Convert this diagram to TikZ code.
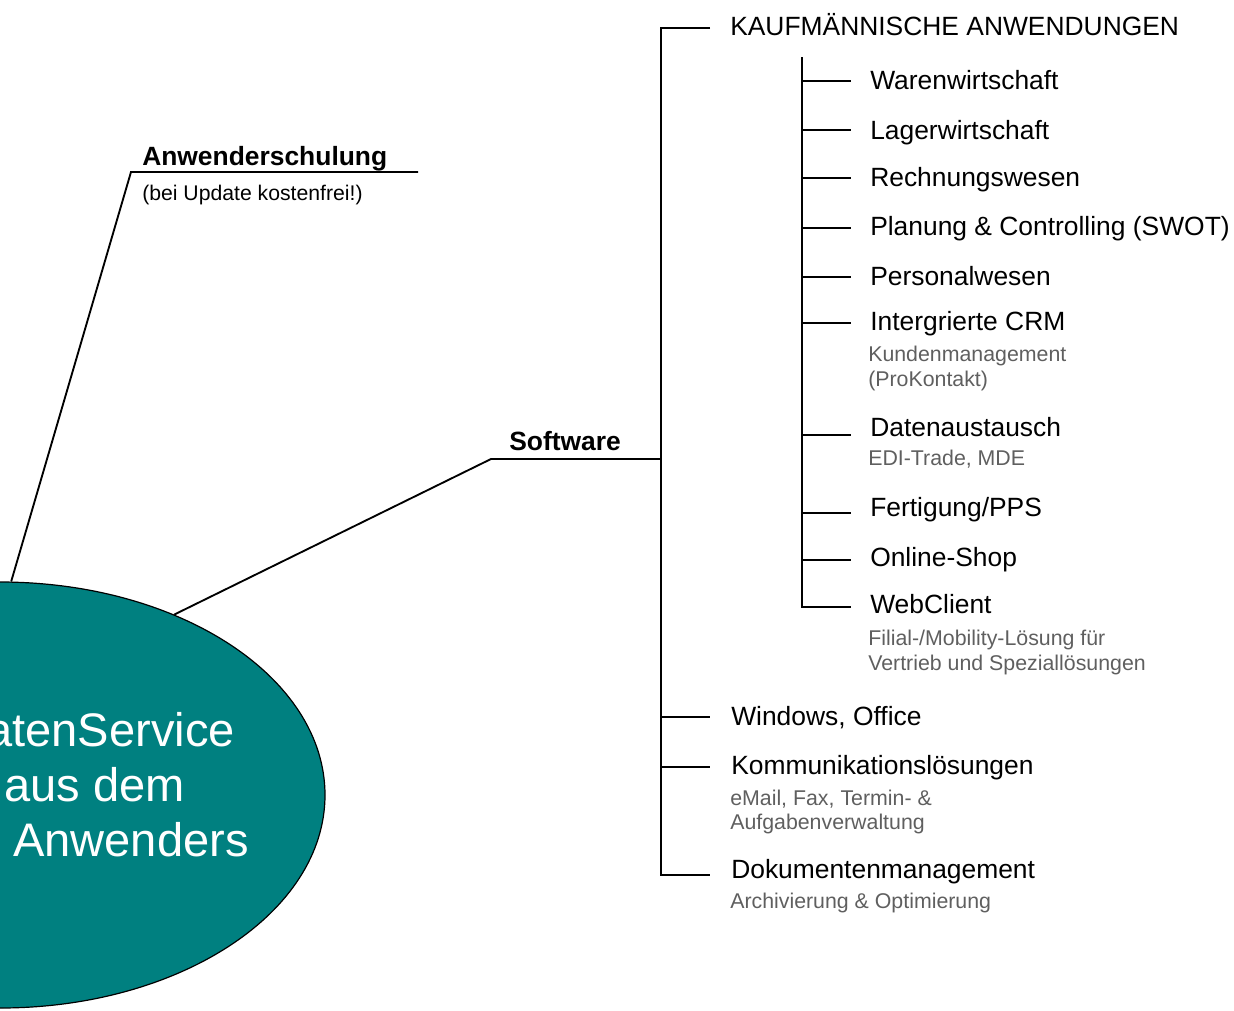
\documentclass[tikz,border=0pt]{standalone}
\usepackage{fontspec}
\setmainfont{Liberation Sans}
\usetikzlibrary{shapes.geometric}
\definecolor{coreteal}{RGB}{0,128,128}
\definecolor{subgray}{RGB}{95,95,95}
\tikzset{
  lbl/.style={anchor=base west, inner sep=0pt, text=black, font=\fontsize{19.8pt}{24pt}\selectfont},
  lblb/.style={anchor=base west, inner sep=0pt, text=black, font=\fontsize{19.8pt}{24pt}\selectfont\bfseries},
  sublbl/.style={anchor=base west, inner sep=0pt, text=subgray, font=\fontsize{16pt}{19pt}\selectfont},
  corelbl/.style={anchor=base west, inner sep=0pt, text=white, font=\fontsize{35.3pt}{42pt}\selectfont},
  conn/.style={draw=black, line width=1.4pt, line join=miter},
}
\begin{document}
\begin{tikzpicture}[x=0.75pt, y=-0.75pt]
\useasboundingbox (0,0) rectangle (1234,1010);
\clip (0,0) rectangle (1234,1010);

% central ellipse
\node[ellipse, draw=black, line width=0.9pt, fill=coreteal, minimum width=487.5pt, minimum height=319.5pt, inner sep=0pt] (core) at (0,795) {};
\node[corelbl] (core1) at (-14,746.7) {atenService};
\node[corelbl] (core2) at (4,801.7) {aus dem};
\node[corelbl] (core3) at (13,856.7) {Anwenders};

% Anwenderschulung branch
\coordinate (aknee) at (131,172);
\coordinate (aend) at (418,172);
\draw[conn] (core.87.6) -- (aknee) -- (aend);
\node[lblb] (anw) at (142,165) {Anwenderschulung};
\node[anchor=base west, inner sep=0pt, font=\fontsize{15.9pt}{19pt}\selectfont] (anwsub) at (142,200.5) {(bei Update kostenfrei!)};

% Software branch
\coordinate (sknee) at (491,459);
\coordinate (sp) at (661,459);
\draw[conn] (core.46.7) -- (sknee) -- (sp);
\node[lblb] (soft) at (509,450) {Software};

% main spine
\coordinate (ktop) at (661,28);
\coordinate (kend) at (710,28);
\coordinate (dbot) at (661,875);
\coordinate (dend) at (710,875);
\draw[conn] (kend) -- (ktop) -- (dbot) -- (dend);
\coordinate (wsp) at (661,717);
\coordinate (wend) at (710,717);
\coordinate (ksp) at (661,767);
\coordinate (kkend) at (710,767);
\draw[conn] (wsp) -- (wend);
\draw[conn] (ksp) -- (kkend);

\node[lbl] (kauf) at (730,35) {KAUFMÄNNISCHE ANWENDUNGEN};
\node[lbl] (win) at (731,725.7) {Windows, Office};
\node[lbl] (komm) at (731,774) {Kommunikationslösungen};
\node[sublbl] (komm1) at (730,805) {eMail, Fax, Termin- \&};
\node[sublbl] (komm2) at (730,829) {Aufgabenverwaltung};
\node[lbl] (dok) at (731,878) {Dokumentenmanagement};
\node[sublbl] (dok1) at (730,908) {Archivierung \& Optimierung};

% sub spine
\coordinate (stop) at (802,57);
\coordinate (sbot) at (802,607.3);
\coordinate (sbend) at (851,607.3);
\draw[conn] (stop) -- (sbot) -- (sbend);
\foreach \yy/\nm in {80.7/b1, 130/b2, 178/b3, 228/b4, 277/b5, 323/b6, 434.7/b7, 512.7/b8, 560/b9}{
  \coordinate (\nm s) at (802,\yy);
  \coordinate (\nm e) at (851,\yy);
  \draw[conn] (\nm s) -- (\nm e);
}

\node[lbl] (ware) at (870,89.3) {Warenwirtschaft};
\node[lbl] (lager) at (870,139.3) {Lagerwirtschaft};
\node[lbl] (rech) at (870,186.7) {Rechnungswesen};
\node[lbl] (plan) at (870,235.7) {Planung \& Controlling (SWOT)};
\node[lbl] (pers) at (870,285) {Personalwesen};
\node[lbl] (crm) at (870,330) {Intergrierte CRM};
\node[sublbl] (crm1) at (868,361.7) {Kundenmanagement};
\node[sublbl] (crm2) at (868,386) {(ProKontakt)};
\node[lbl] (daten) at (870,436.7) {Datenaustausch};
\node[sublbl] (daten1) at (868,465.7) {EDI-Trade, MDE};
\node[lbl] (fert) at (870,516.7) {Fertigung/PPS};
\node[lbl] (shop) at (870,566) {Online-Shop};
\node[lbl] (web) at (870,613) {WebClient};
\node[sublbl] (web1) at (868,645) {Filial-/Mobility-Lösung für};
\node[sublbl] (web2) at (868,670) {Vertrieb und Speziallösungen};
\end{tikzpicture}
\end{document}
